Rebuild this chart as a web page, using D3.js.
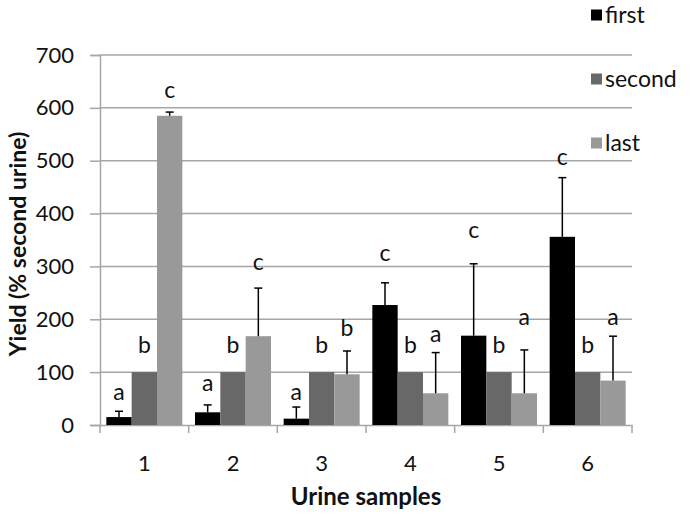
<!DOCTYPE html>
<html>
<head>
<meta charset="utf-8">
<script src="https://cdn.jsdelivr.net/npm/d3@7"></script>
<style>
  body { margin: 0; background: #fff; }
  svg text { font-family: Lato, "Open Sans", sans-serif; }
</style>
</head>
<body>
<svg id="chart" width="690" height="515"></svg>
<script>
// data
let samples = ['1', '2', '3', '4', '5', '6'];
let seriesNames = ['first', 'second', 'last'];
let firstVals = [15, 24, 12, 227, 169, 356];
let secondVals = [100, 100, 100, 100, 100, 100];
let lastVals = [585, 168, 96, 60, 60, 84];
let firstErr = [11, 14, 22, 42, 136, 112];
let secondErr = [0, 0, 0, 0, 0, 0];
let lastErr = [7, 91, 44, 77, 82, 84];
// significance letters and where they sit (in y units)
let firstLetters = ['a', 'a', 'a', 'c', 'c', 'c'];
let secondLetters = ['b', 'b', 'b', 'b', 'b', 'b'];
let lastLetters = ['c', 'c', 'b', 'a', 'a', 'a'];
let firstLetterAt = [62, 79, 62, 325, 369, 508];
let secondLetterAt = [151, 151, 151, 151, 151, 151];
let lastLetterAt = [633, 308, 183, 172, 204, 204];
let yTicks = [0, 100, 200, 300, 400, 500, 600, 700];

let colors = ['#000000', '#686868', '#999999'];

let svg = d3.select('#chart');
let plotLeft = 100, plotRight = 632, plotTop = 55, plotBottom = 425;

let x = d3.scaleBand().domain(samples).range([plotLeft, plotRight]).paddingInner(0).paddingOuter(0);
let inner = d3.scaleBand().domain(seriesNames).range([0, x.bandwidth()]).paddingInner(0).paddingOuter(0.25);
let y = d3.scaleLinear().domain([0, 700]).range([plotBottom, plotTop]);

// gridlines
svg.append('g')
    .selectAll('line')
    .data(yTicks.filter(d => d > 0))
    .enter()
    .append('line')
    .attr('x1', plotLeft)
    .attr('x2', plotRight)
    .attr('y1', d => y(d))
    .attr('y2', d => y(d))
    .attr('stroke', '#a6a6a6')
    .attr('stroke-width', 1.5);

// y axis
let yAxis = svg.append('g')
    .attr('transform', `translate(${plotLeft},0)`)
    .call(d3.axisLeft(y).tickValues(yTicks).tickSize(10).tickPadding(16));
yAxis.select('.domain').attr('stroke', '#a6a6a6').attr('stroke-width', 1.5);
yAxis.selectAll('.tick line').attr('stroke', '#a6a6a6').attr('stroke-width', 1.5);
yAxis.selectAll('.tick text').attr('font-size', 22).attr('fill', '#111')
    .style('font-family', 'Lato, sans-serif');

// x axis
let xAxis = svg.append('g')
    .attr('transform', `translate(0,${plotBottom})`)
    .call(d3.axisBottom(x).tickSize(0).tickPadding(30));
xAxis.select('.domain').attr('stroke', '#a6a6a6').attr('stroke-width', 1.5);
xAxis.selectAll('.tick text').attr('font-size', 22).attr('fill', '#111')
    .style('font-family', 'Lato, sans-serif');
svg.append('g')
    .selectAll('line')
    .data(d3.range(samples.length + 1))
    .enter()
    .append('line')
    .attr('x1', d => plotLeft + d * x.step())
    .attr('x2', d => plotLeft + d * x.step())
    .attr('y1', plotBottom)
    .attr('y2', plotBottom + 8)
    .attr('stroke', '#a6a6a6')
    .attr('stroke-width', 1.5);

// bars
let rows = [];
samples.forEach(function(s, i){
    rows.push({s: s, k: 'first', v: firstVals[i], e: firstErr[i], l: firstLetters[i], la: firstLetterAt[i], c: colors[0]});
    rows.push({s: s, k: 'second', v: secondVals[i], e: secondErr[i], l: secondLetters[i], la: secondLetterAt[i], c: colors[1]});
    rows.push({s: s, k: 'last', v: lastVals[i], e: lastErr[i], l: lastLetters[i], la: lastLetterAt[i], c: colors[2]});
});

let cx = d => x(d.s) + inner(d.k) + inner.bandwidth() / 2;

svg.append('g')
    .selectAll('rect')
    .data(rows)
    .enter()
    .append('rect')
    .attr('x', d => x(d.s) + inner(d.k))
    .attr('width', inner.bandwidth())
    .attr('y', d => y(d.v))
    .attr('height', d => y(0) - y(d.v))
    .attr('fill', d => d.c);

// error bars (upper only)
let errs = svg.append('g')
    .selectAll('g')
    .data(rows.filter(d => d.e > 0))
    .enter()
    .append('g');
errs.append('line')
    .attr('x1', cx).attr('x2', cx)
    .attr('y1', d => y(d.v)).attr('y2', d => y(d.v + d.e))
    .attr('stroke', '#000').attr('stroke-width', 1.5);
errs.append('line')
    .attr('x1', d => cx(d) - 4).attr('x2', d => cx(d) + 4)
    .attr('y1', d => y(d.v + d.e)).attr('y2', d => y(d.v + d.e))
    .attr('stroke', '#000').attr('stroke-width', 1.5);

// letters
svg.append('g')
    .selectAll('text')
    .data(rows)
    .enter()
    .append('text')
    .attr('x', cx)
    .attr('y', d => y(d.la))
    .attr('dy', '0.35em')
    .attr('text-anchor', 'middle')
    .attr('font-size', 23)
    .attr('fill', '#111')
    .text(d => d.l);

// legend
let legend = svg.append('g')
    .selectAll('g')
    .data(seriesNames)
    .enter()
    .append('g')
    .attr('transform', (d, i) => `translate(591,${15 + i * 64})`);
legend.append('rect')
    .attr('x', 0).attr('y', -5.5)
    .attr('width', 11).attr('height', 11)
    .attr('fill', (d, i) => colors[i]);
legend.append('text')
    .attr('x', 14).attr('y', 0).attr('dy', '0.35em')
    .attr('font-size', 23)
    .attr('fill', '#111')
    .text(d => d);

// axis titles
svg.append('text')
    .attr('x', 366)
    .attr('y', 497)
    .attr('dy', '0.35em')
    .attr('text-anchor', 'middle')
    .attr('font-size', 24)
    .attr('font-weight', 'bold')
    .attr('fill', '#111')
    .text('Urine samples');

svg.append('text')
    .attr('transform', 'translate(18,244) rotate(-90)')
    .attr('dy', '0.35em')
    .attr('text-anchor', 'middle')
    .attr('font-size', 23)
    .attr('font-weight', 'bold')
    .attr('fill', '#111')
    .text('Yield (% second urine)');
</script>
</body>
</html>
